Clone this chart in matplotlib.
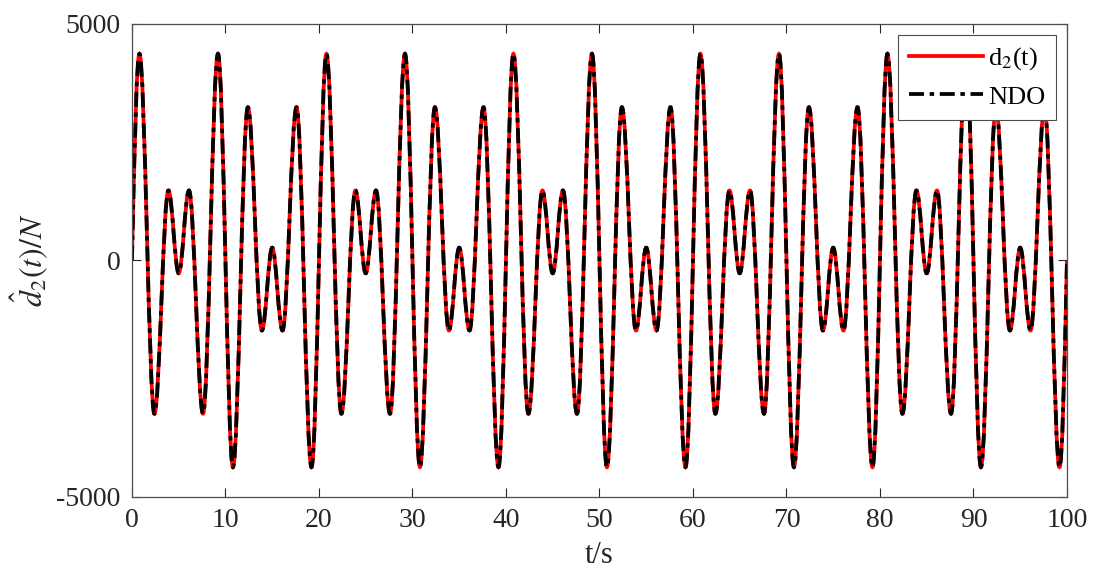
import numpy as np
import matplotlib
matplotlib.use("Agg")
import matplotlib.pyplot as plt
from matplotlib.path import Path
from matplotlib.patches import PathPatch
from matplotlib.lines import Line2D

# extrema of the disturbance curve (t in s, d in N)
t_ext = [0.0, 0.8, 2.4, 3.9, 5.0, 6.1, 7.6, 9.2,
         10.8, 12.4, 13.9, 15.0, 16.1, 17.6, 19.2,
         20.8, 22.4, 23.9, 25.0, 26.1, 27.6, 29.2,
         30.8, 32.4, 33.9, 35.0, 36.1, 37.6, 39.2,
         40.8, 42.4, 43.9, 45.0, 46.1, 47.6, 49.2,
         50.8, 52.4, 53.9, 55.0, 56.1, 57.6, 59.2,
         60.8, 62.4, 63.9, 65.0, 66.1, 67.6, 69.2,
         70.8, 72.4, 73.9, 75.0, 76.1, 77.6, 79.2,
         80.8, 82.4, 83.9, 85.0, 86.1, 87.6, 89.2,
         90.8, 92.4, 93.9, 95.0, 96.1, 97.6, 99.2, 100.0]
d_ext = [0, 4370, -3240, 1480, -270, 1480, -3240, 4370,
         -4370, 3240, -1480, 270, -1480, 3240, -4370,
         4370, -3240, 1480, -270, 1480, -3240, 4370,
         -4370, 3240, -1480, 270, -1480, 3240, -4370,
         4370, -3240, 1480, -270, 1480, -3240, 4370,
         -4370, 3240, -1480, 270, -1480, 3240, -4370,
         4370, -3240, 1480, -270, 1480, -3240, 4370,
         -4370, 3240, -1480, 270, -1480, 3240, -4370,
         4370, -3240, 1480, -270, 1480, -3240, 4370,
         -4370, 3240, -1480, 270, -1480, 3240, -4370, 0]

x_ticks = [0, 10, 20, 30, 40, 50, 60, 70, 80, 90, 100]
y_ticks = [-5000, 0, 5000]
labels = ["d$_2$(t)", "NDO"]

plt.rcParams["font.family"] = ["Liberation Serif", "DejaVu Serif"]
plt.rcParams["mathtext.fontset"] = "stix"
plt.rcParams["axes.unicode_minus"] = False

AX_COLOR = "#262626"


def smooth_path(t, y, k=0.363):
    # cubic bezier through the extrema, flat tangents at each peak/trough
    n = len(t)
    slopes = [0.0] * n
    slopes[0] = np.pi / 2 * (y[1] - y[0]) / (t[1] - t[0])
    slopes[-1] = np.pi / 2 * (y[-1] - y[-2]) / (t[-1] - t[-2])
    verts = [(t[0], y[0])]
    codes = [Path.MOVETO]
    for i in range(n - 1):
        h = k * (t[i + 1] - t[i])
        verts += [(t[i] + h, y[i] + slopes[i] * h),
                  (t[i + 1] - h, y[i + 1] - slopes[i + 1] * h),
                  (t[i + 1], y[i + 1])]
        codes += [Path.CURVE4] * 3
    return Path(verts, codes)


fig = plt.figure(figsize=(10.96, 5.88), dpi=100)
ax = fig.add_axes([0.1204, 0.1548, 0.8531, 0.8044])

curve = smooth_path(t_ext, d_ext)
dashdot = (0, (4, 1.5, 1.2, 1.5))
ax.add_patch(PathPatch(curve, fill=False, edgecolor="red", lw=2.7,
                       transform=ax.transData))
ax.add_patch(PathPatch(curve, fill=False, edgecolor="black", lw=2.7,
                       linestyle=dashdot, transform=ax.transData))

ax.set_xlim(0, 100)
ax.set_ylim(-5000, 5000)
ax.set_xticks(x_ticks)
ax.set_yticks(y_ticks)
ax.tick_params(direction="in", length=6.5, width=0.8, top=True, right=True,
               labelsize=20, colors=AX_COLOR, pad=8)
for s in ax.spines.values():
    s.set_color("#4d4d4d")
    s.set_linewidth(0.9)

ax.set_xlabel("t/s", fontsize=22, color=AX_COLOR, labelpad=6)
ax.set_ylabel(r"$\hat{d}_2(t)/N$", fontsize=23, color=AX_COLOR, labelpad=4)

handles = [Line2D([], [], color="red", lw=2.7),
           Line2D([], [], color="black", lw=2.7, linestyle=dashdot)]
leg = ax.legend(handles, labels, loc="upper right", fontsize=19,
                handlelength=2.8, handletextpad=0.2, borderpad=0.42,
                labelspacing=0.48, fancybox=False, framealpha=1,
                edgecolor="#4d4d4d", borderaxespad=0.4)
leg.get_frame().set_linewidth(0.8)
for txt in leg.get_texts():
    txt.set_color("black")

fig.savefig("out.png", dpi=100)
